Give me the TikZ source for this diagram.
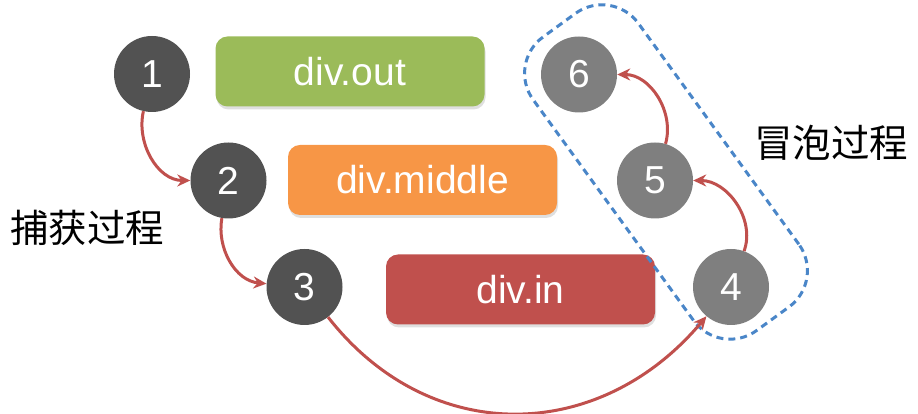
\documentclass[tikz,border=0pt]{standalone}
\usepackage{fontspec}
\setmainfont{Liberation Sans}
\newfontfamily\cjk{Noto Sans CJK SC}
\usepackage{tikz}
\usetikzlibrary{arrows.meta,shadows}

\definecolor{darkball}{HTML}{525252}
\definecolor{lightball}{HTML}{7F7F7F}
\definecolor{outgreen}{HTML}{9BBB59}
\definecolor{midorange}{HTML}{F79646}
\definecolor{inred}{HTML}{C0504D}
\definecolor{flowred}{HTML}{C0504D}
\definecolor{bubbleblue}{HTML}{4A86C8}

\begin{document}
\begin{tikzpicture}[x=1pt, y=1pt,
  ball/.style={circle, minimum size=76pt, inner sep=0pt, text=white, font=\fontsize{39}{39}\selectfont},
  divbox/.style={rounded corners=12pt, minimum height=70pt, minimum width=269pt, text=white,
    font=\fontsize{39}{39}\selectfont, drop shadow={opacity=0.25, shadow xshift=1pt, shadow yshift=-3pt}},
  flow/.style={flowred, line width=3pt, -{Stealth[length=13pt, width=12pt]}},
  phase/.style={font=\cjk\fontsize{38.5}{38.5}\selectfont}]
\useasboundingbox (0,0) rectangle (918,414);

% the boxes
\node[divbox, fill=outgreen] (out) at (350,342.5) {div.out};
\node[divbox, fill=midorange] (middle) at (422.5,234) {div.middle};
\node[divbox, fill=inred] (in) at (520.5,124.5) {div.in};

% bubbling group
\node[draw=bubbleblue, line width=3pt, dash pattern=on 7pt off 5pt, rounded corners=45pt,
  minimum width=363pt, minimum height=130pt, rotate=-54] (bubble) at (666,242) {};

% the balls
\node[ball, fill=darkball] (n1) at (152,340) {1};
\node[ball, fill=darkball] (n2) at (228.5,233.5) {2};
\node[ball, fill=darkball] (n3) at (304.5,127) {3};
\node[ball, fill=lightball] (n4) at (731,127) {4};
\node[ball, fill=lightball] (n5) at (655,233.5) {5};
\node[ball, fill=lightball] (n6) at (579,339.5) {6};

% labels
\node[phase] (capture) at (87,186) {捕获过程};
\node[phase] (bubbling) at (831,271.5) {冒泡过程};

% flow
\draw[flow] (n1) to[out=-103, in=180] (n2);
\draw[flow] (n2) to[out=-100, in=175] (n3);
\draw[flow] (n3) to[out=-52, in=-130, looseness=1.12] (n4);
\draw[flow] (n4) to[out=70, in=0] (n5);
\draw[flow] (n5) to[out=74, in=0] (n6);
\end{tikzpicture}
\end{document}
